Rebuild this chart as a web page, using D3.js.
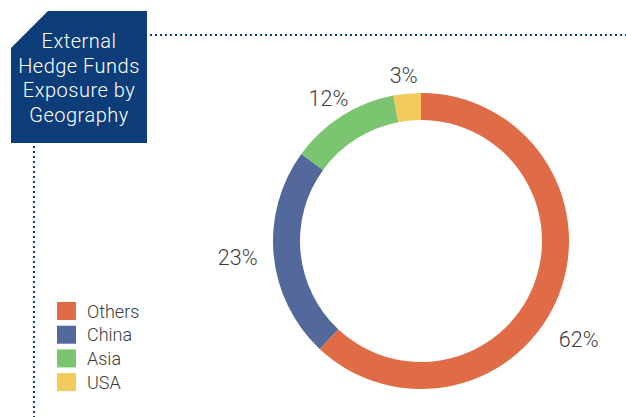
<!DOCTYPE html>
<html>
<head>
<meta charset="utf-8">
<script src="https://cdn.jsdelivr.net/npm/d3@7"></script>
<style>
  html, body { margin: 0; padding: 0; background: #fff; }
  svg { display: block; }
</style>
</head>
<body>
<svg id="chart" width="626" height="417"></svg>
<script>
// Exposure by geography, in percent
const categories = ["Others", "China", "Asia", "USA"];
const values = [62, 23, 12, 3];
const titleLines = ["External", "Hedge Funds", "Exposure by", "Geography"];

const colors = ["#E06B47", "#53689B", "#7BC470", "#F3CB5C"];
const navy = "#0D3D78";
const textColor = "#3b3b3b";
const fontFamily = "Roboto, 'Liberation Sans', sans-serif";

// Label placement around the ring: angle (degrees, clockwise from top) and radius
const labelAngles = [122, 265, 327, 354];
const labelRadii = [186, 184, 170, 166];

const svg = d3.select("#chart");

// Title badge with clipped top-left corner
svg.append("path")
  .attr("d", "M48,11 L147,11 L147,143 L11,143 L11,48 Z")
  .attr("fill", navy);

svg.append("text")
  .attr("x", 79)
  .attr("y", 48)
  .attr("text-anchor", "middle")
  .attr("fill", "#fff")
  .style("font-family", fontFamily)
  .style("font-weight", 300)
  .style("font-size", "20px")
  .style("letter-spacing", "0.5px")
  .selectAll("tspan")
  .data(titleLines)
  .join("tspan")
  .attr("x", 79)
  .attr("dy", (d, i) => i === 0 ? 0 : 24.5)
  .text(d => d);

// Dotted guide lines
svg.append("line")
  .attr("x1", 150).attr("x2", 626)
  .attr("y1", 35).attr("y2", 35)
  .attr("stroke", navy).attr("stroke-width", 2)
  .attr("stroke-dasharray", "2,3");

svg.append("line")
  .attr("x1", 34).attr("x2", 34)
  .attr("y1", 146).attr("y2", 417)
  .attr("stroke", navy).attr("stroke-width", 2)
  .attr("stroke-dasharray", "2,3");

// Donut
const cx = 421, cy = 241;
const outerR = 148, innerR = 121;

const pie = d3.pie().sort(null).value(d => d.value);
const arcs = pie(categories.map((c, i) => ({ name: c, value: values[i] })));
const arc = d3.arc().innerRadius(innerR).outerRadius(outerR);

const g = svg.append("g").attr("transform", `translate(${cx},${cy})`);
g.selectAll("path.slice")
  .data(arcs)
  .join("path")
  .attr("class", "slice")
  .attr("d", arc)
  .attr("fill", (d, i) => colors[i]);

// Percentage labels
g.selectAll("text.pct")
  .data(arcs)
  .join("text")
  .attr("class", "pct")
  .attr("x", (d, i) => labelRadii[i] * Math.sin(labelAngles[i] * Math.PI / 180))
  .attr("y", (d, i) => -labelRadii[i] * Math.cos(labelAngles[i] * Math.PI / 180))
  .attr("text-anchor", "middle")
  .attr("dominant-baseline", "central")
  .attr("fill", textColor)
  .style("font-family", fontFamily)
  .style("font-weight", 300)
  .style("font-size", "21.5px")
  .text(d => d.data.value + "%");

// Legend
const legend = svg.append("g")
  .selectAll("g")
  .data(categories)
  .join("g")
  .attr("transform", (d, i) => `translate(57, ${302 + i * 23.7})`);

legend.append("rect")
  .attr("width", 19).attr("height", 18)
  .attr("fill", (d, i) => colors[i]);

legend.append("text")
  .attr("x", 30)
  .attr("y", 9)
  .attr("dominant-baseline", "central")
  .attr("fill", textColor)
  .style("font-family", fontFamily)
  .style("font-weight", 300)
  .style("font-size", "18px")
  .text(d => d);
</script>
</body>
</html>
